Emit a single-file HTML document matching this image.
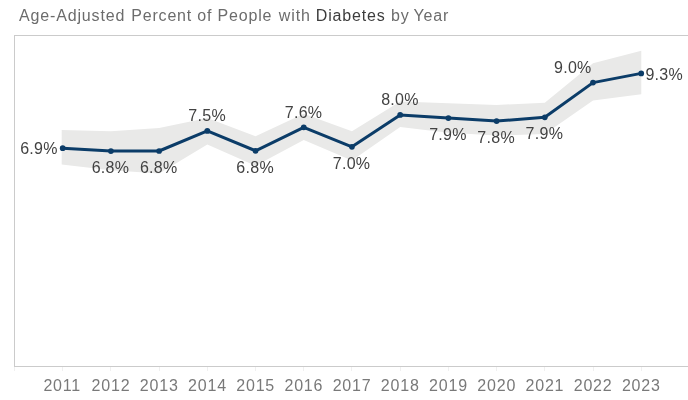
<!DOCTYPE html>
<html>
<head>
<meta charset="utf-8">
<title>Age-Adjusted Percent of People with Diabetes by Year</title>
<style>
html,body{margin:0;padding:0;background:#fff;}
body{width:688px;height:400px;overflow:hidden;position:relative;font-family:"Liberation Sans",sans-serif;}
.title{position:absolute;left:19px;top:6px;font-size:16px;line-height:20px;color:#6c6c6c;letter-spacing:0.84px;white-space:nowrap;will-change:transform;}
.title b{font-weight:normal;color:#3c3c3c;position:relative;}
.title i{font-style:normal;position:relative;}
svg{position:absolute;left:0;top:0;will-change:transform;}
svg text{font-family:"Liberation Sans",sans-serif;font-size:16px;}
.lbl text{fill:#424242;letter-spacing:0.3px;}
.ax text{fill:#797979;letter-spacing:0.8px;}
</style>
</head>
<body>
<div class="title">Age-Adjusted <i style="left:0.7px">Percent</i> <i style="left:0.5px">of</i> <i style="left:0.4px">People</i> <i style="left:1.6px">with</i> <b style="left:1.4px">Diabetes</b> <i style="left:1.5px">by</i> <i style="left:0.3px">Year</i></div>
<svg width="688" height="400" viewBox="0 0 688 400">
<path d="M61.70,130.00 L110.91,131.20 L159.12,128.00 L207.33,118.00 L255.54,136.30 L303.75,113.70 L351.96,131.30 L400.17,101.50 L448.38,103.30 L496.59,105.00 L544.80,102.70 L593.01,63.30 L641.30,50.80 L641.30,94.30 L593.01,100.40 L544.80,134.00 L496.59,135.50 L448.38,132.70 L400.17,126.90 L351.96,160.60 L303.75,140.00 L255.54,165.80 L207.33,144.50 L159.12,173.50 L110.91,170.30 L61.70,164.40 Z" fill="#e9e9e8"/>
<g stroke="#cbcbcb" stroke-width="1" fill="none" shape-rendering="crispEdges">
<line x1="14.5" y1="35" x2="14.5" y2="367"/>
<line x1="14" y1="35.5" x2="688" y2="35.5"/>
<line x1="14" y1="366.5" x2="688" y2="366.5"/>
</g>
<g stroke="#f0f0f0" stroke-width="1" shape-rendering="crispEdges">
<line x1="14.50" y1="367" x2="14.50" y2="370.5"/>
<line x1="62.50" y1="367" x2="62.50" y2="370.5"/>
<line x1="110.50" y1="367" x2="110.50" y2="370.5"/>
<line x1="159.50" y1="367" x2="159.50" y2="370.5"/>
<line x1="207.50" y1="367" x2="207.50" y2="370.5"/>
<line x1="255.50" y1="367" x2="255.50" y2="370.5"/>
<line x1="303.50" y1="367" x2="303.50" y2="370.5"/>
<line x1="351.50" y1="367" x2="351.50" y2="370.5"/>
<line x1="400.50" y1="367" x2="400.50" y2="370.5"/>
<line x1="448.50" y1="367" x2="448.50" y2="370.5"/>
<line x1="496.50" y1="367" x2="496.50" y2="370.5"/>
<line x1="544.50" y1="367" x2="544.50" y2="370.5"/>
<line x1="593.50" y1="367" x2="593.50" y2="370.5"/>
<line x1="641.50" y1="367" x2="641.50" y2="370.5"/>
</g>
<path d="M62.70,148.20 L110.91,151.10 L159.12,151.00 L207.33,130.90 L255.54,150.80 L303.75,127.30 L351.96,146.80 L400.17,114.90 L448.38,118.10 L496.59,121.10 L544.80,117.30 L593.01,82.60 L641.22,73.40" fill="none" stroke="#0b3c68" stroke-width="3" stroke-linejoin="round" stroke-linecap="round"/>
<g fill="#0b3c68">
<circle cx="62.70" cy="148.20" r="2.85"/>
<circle cx="110.91" cy="151.10" r="2.85"/>
<circle cx="159.12" cy="151.00" r="2.85"/>
<circle cx="207.33" cy="130.90" r="2.85"/>
<circle cx="255.54" cy="150.80" r="2.85"/>
<circle cx="303.75" cy="127.30" r="2.85"/>
<circle cx="351.96" cy="146.80" r="2.85"/>
<circle cx="400.17" cy="114.90" r="2.85"/>
<circle cx="448.38" cy="118.10" r="2.85"/>
<circle cx="496.59" cy="121.10" r="2.85"/>
<circle cx="544.80" cy="117.30" r="2.85"/>
<circle cx="593.01" cy="82.60" r="2.85"/>
<circle cx="641.22" cy="73.40" r="2.85"/>
</g>
<g class="lbl">
<text x="57.80" y="153.70" text-anchor="end">6.9%</text>
<text x="110.51" y="172.90" text-anchor="middle">6.8%</text>
<text x="158.72" y="172.80" text-anchor="middle">6.8%</text>
<text x="207.13" y="121.30" text-anchor="middle">7.5%</text>
<text x="255.14" y="172.60" text-anchor="middle">6.8%</text>
<text x="303.55" y="117.70" text-anchor="middle">7.6%</text>
<text x="351.56" y="168.60" text-anchor="middle">7.0%</text>
<text x="399.97" y="105.30" text-anchor="middle">8.0%</text>
<text x="447.98" y="139.90" text-anchor="middle">7.9%</text>
<text x="496.19" y="142.90" text-anchor="middle">7.8%</text>
<text x="544.40" y="139.10" text-anchor="middle">7.9%</text>
<text x="572.80" y="72.80" text-anchor="middle">9.0%</text>
<text x="645.40" y="79.70" text-anchor="start">9.3%</text>
</g>
<g class="ax">
<text x="62.20" y="390.8" text-anchor="middle">2011</text>
<text x="111.01" y="390.8" text-anchor="middle">2012</text>
<text x="159.22" y="390.8" text-anchor="middle">2013</text>
<text x="207.43" y="390.8" text-anchor="middle">2014</text>
<text x="255.64" y="390.8" text-anchor="middle">2015</text>
<text x="303.85" y="390.8" text-anchor="middle">2016</text>
<text x="352.06" y="390.8" text-anchor="middle">2017</text>
<text x="400.27" y="390.8" text-anchor="middle">2018</text>
<text x="448.48" y="390.8" text-anchor="middle">2019</text>
<text x="496.69" y="390.8" text-anchor="middle">2020</text>
<text x="544.90" y="390.8" text-anchor="middle">2021</text>
<text x="593.11" y="390.8" text-anchor="middle">2022</text>
<text x="641.32" y="390.8" text-anchor="middle">2023</text>
</g>
</svg>
</body>
</html>
